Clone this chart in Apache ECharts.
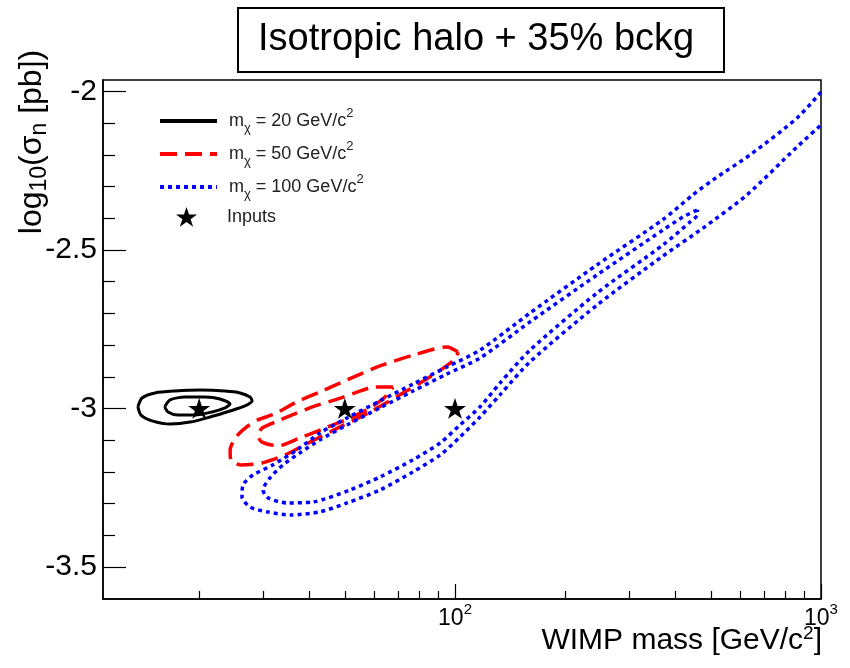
<!DOCTYPE html>
<html>
<head>
<meta charset="utf-8">
<script src="https://cdn.jsdelivr.net/npm/echarts@6/dist/echarts.min.js"></script>
<style>html,body{margin:0;padding:0;background:#fff}#c{width:850px;height:668px}</style>
</head>
<body>
<div id="c"></div>
<script>
// ---- data (mass in GeV/c^2, log10 sigma in pb) ----
var titleText = 'Isotropic halo + 35% bckg';
var legendMasses = ['20', '50', '100'];
var seriesNames = ['m20', 'm50', 'm100'];

var blackOuter = [[13.6,-2.995],[13.96,-2.967],[15.15,-2.951],[17.18,-2.945],[20.1,-2.942],[23.53,-2.945],[25.86,-2.951],[27.54,-2.964],[27.9,-2.976],[26.68,-2.992],[24.28,-3.008],[21.41,-3.027],[18.88,-3.043],[16.65,-3.049],[14.87,-3.039],[13.87,-3.021],[13.6,-2.995]];
var blackInner = [[16.1,-2.995],[16.65,-2.973],[18.3,-2.964],[20.75,-2.964],[22.8,-2.970],[24.28,-2.986],[23.53,-2.998],[21.69,-3.011],[19.48,-3.021],[17.51,-3.021],[16.44,-3.011],[16.1,-2.995]];

var redOuter = [[101.9,-2.822],[95.1,-2.806],[76.8,-2.832],[62.4,-2.866],[50.7,-2.910],[42.8,-2.948],[37.0,-2.979],[32.2,-3.017],[28.95,-3.036],[26.7,-3.062],[25.1,-3.093],[24.3,-3.131],[24.4,-3.162],[25.9,-3.178],[29.7,-3.172],[34.3,-3.147],[40.2,-3.106],[48.5,-3.058],[58.6,-3.011],[70.7,-2.957],[82.8,-2.910],[93.9,-2.869],[100.6,-2.841],[101.9,-2.822]];
var redInner = [[67.7,-2.932],[60.5,-2.932],[53.3,-2.951],[47.0,-2.973],[41.5,-2.992],[36.5,-3.017],[32.2,-3.043],[29.7,-3.062],[28.95,-3.087],[29.7,-3.106],[32.85,-3.118],[37.7,-3.093],[44.1,-3.062],[51.7,-3.030],[58.6,-2.998],[64.4,-2.964],[67.7,-2.932]];

var blueOuter = [[1000,-2.002],[860,-2.084],[640,-2.200],[507,-2.279],[447,-2.326],[370.1,-2.404],[244.3,-2.547],[160.3,-2.699],[117.0,-2.816],[95.1,-2.869],[76.8,-2.923],[62.4,-2.976],[50.7,-3.030],[42.8,-3.077],[37.0,-3.131],[31.8,-3.178],[28.06,-3.210],[26.35,-3.241],[26.18,-3.279],[27.54,-3.311],[30.64,-3.326],[35.42,-3.336],[42.77,-3.326],[50.7,-3.298],[62.39,-3.257],[76.78,-3.200],[91.0,-3.147],[103.2,-3.090],[117.0,-3.027],[132.7,-2.957],[160.3,-2.853],[244.3,-2.674],[370.1,-2.519],[476,-2.431],[628,-2.326],[860,-2.175],[1000,-2.106]];
var blueInner = [[458.4,-2.374],[419.7,-2.396],[370.1,-2.437],[244.3,-2.579],[160.3,-2.727],[117.0,-2.841],[95.1,-2.891],[76.78,-2.945],[62.39,-2.998],[50.7,-3.052],[42.77,-3.099],[37.71,-3.140],[33.89,-3.178],[31.22,-3.219],[29.88,-3.257],[30.83,-3.282],[34.75,-3.298],[40.93,-3.295],[51.67,-3.257],[62.39,-3.216],[76.78,-3.162],[91.0,-3.109],[103.2,-3.052],[117.0,-2.995],[132.7,-2.920],[160.3,-2.816],[244.3,-2.636],[370.1,-2.484],[438.6,-2.412],[461.3,-2.386],[458.4,-2.374]];

var inputMass = [20, 50, 100];
var inputSigma = [-3, -3, -3];

var xMajorTicks = [100, 1000];
var xMinorTicks = [20,30,40,50,60,70,80,90,200,300,400,500,600,700,800,900];
var yMajorTicks = [-3.5, -3, -2.5, -2];
var yMinorTicks = [-3.4,-3.3,-3.2,-3.1,-2.9,-2.8,-2.7,-2.6,-2.4,-2.3,-2.2,-2.1];
var xMin = 10.92, xMax = 1000, yMin = -3.601, yMax = -1.964;

// ---- chart ----
var FONT = 'Liberation Sans, Arial, Helvetica, sans-serif';
var starPath = 'path://M50,0 L61.8,35.1 L98.9,35.1 L69.1,56.7 L80.9,91.9 L50,70.1 L19.1,91.9 L30.9,56.7 L1.1,35.1 L38.2,35.1 Z';
var chart = echarts.init(document.getElementById('c'), null, {renderer: 'canvas'});

function contour(name, data, color, type, width) {
  return {
    name: name, type: 'line', data: data, showSymbol: false, symbol: 'none',
    smooth: 0.25, clip: true, silent: true,
    lineStyle: {color: color, width: width, type: type, cap: 'butt'},
    itemStyle: {color: color}
  };
}
var legendRich = {
  n: {fontSize: 18, fontFamily: FONT, color: '#222', lineHeight: 22},
  sub: {fontSize: 13, fontFamily: FONT, color: '#222', verticalAlign: 'bottom', lineHeight: 22, padding: [0,0,-3,0]},
  sup: {fontSize: 13, fontFamily: FONT, color: '#222', verticalAlign: 'top', lineHeight: 22, padding: [-3,0,0,0]}
};
var nameMap = {};
seriesNames.forEach(function (n, i) {
  nameMap[n] = '{n|m}{sub|\u03c7}{n| = ' + legendMasses[i] + ' GeV/c}{sup|2}';
});

var option = {
  animation: false,
  backgroundColor: '#fff',
  title: {
    text: titleText, left: 238, top: 8,
    borderColor: '#000', borderWidth: 2,
    padding: [10, 30, 10, 20],
    textStyle: {fontSize: 38, fontWeight: 'normal', fontFamily: FONT, color: '#000', lineHeight: 44}
  },
  grid: {left: 103, top: 80, right: 29, bottom: 69, show: true, borderColor: '#000', borderWidth: 1.5, backgroundColor: 'transparent'},
  legend: [{
    data: seriesNames, orient: 'vertical', left: 158, top: 107, padding: 0,
    itemWidth: 57, itemHeight: 20, itemGap: 5,
    itemStyle: {opacity: 0},
    lineStyle: {width: 4},
    formatter: function (n) { return nameMap[n]; },
    textStyle: {rich: legendRich, padding: [0,0,0,7]}
  }, {
    data: ['Inputs'], orient: 'vertical', left: 176, top: 207, padding: 0,
    itemWidth: 21, itemHeight: 21,
    textStyle: {fontSize: 18, fontFamily: FONT, color: '#222', padding: [0,0,0,25]}
  }],
  xAxis: [{
    type: 'log', min: xMin, max: xMax, logBase: 10,
    axisLine: {show: true, lineStyle: {color: '#000', width: 1.5}},
    splitLine: {show: false},
    axisTick: {show: true, inside: true, length: 15, customValues: xMajorTicks, lineStyle: {color: '#000', width: 1.2}},
    axisLabel: {
      customValues: xMajorTicks, margin: 7,
      formatter: function (v) { return '{b|10}{s|' + Math.round(Math.log10(v)) + '}'; },
      rich: {
        b: {fontSize: 23, fontFamily: FONT, color: '#000', lineHeight: 26},
        s: {fontSize: 15, fontFamily: FONT, color: '#000', verticalAlign: 'top', lineHeight: 26, padding: [-4,0,0,0]}
      }
    }
  }, {
    type: 'log', min: xMin, max: xMax, logBase: 10, position: 'bottom',
    axisLine: {show: false}, splitLine: {show: false},
    axisTick: {show: true, inside: true, length: 8, customValues: xMinorTicks, lineStyle: {color: '#000', width: 1.2}},
    axisLabel: {show: false}
  }],
  yAxis: [{
    type: 'value', min: yMin, max: yMax,
    axisLine: {show: true, lineStyle: {color: '#000', width: 1.5}},
    splitLine: {show: false},
    axisTick: {show: true, inside: true, length: 23, customValues: yMajorTicks, lineStyle: {color: '#000', width: 1.2}},
    axisLabel: {customValues: yMajorTicks, margin: 6, fontSize: 30, fontFamily: FONT, color: '#000',
      formatter: function (v) { return String(v); }}
  }, {
    type: 'value', min: yMin, max: yMax, position: 'left',
    axisLine: {show: false}, splitLine: {show: false},
    axisTick: {show: true, inside: true, length: 12, customValues: yMinorTicks, lineStyle: {color: '#000', width: 1.2}},
    axisLabel: {show: false}
  }],
  graphic: [{
    type: 'text', x: 32, y: 142, rotation: Math.PI / 2,
    style: {
      text: '{n|log}{sub|10}{n|(\u03c3}{sub|n}{n| [pb])}',
      align: 'center', verticalAlign: 'middle',
      rich: {
        n: {fontSize: 32, fontFamily: FONT, fill: '#000', lineHeight: 38},
        sub: {fontSize: 23, fontFamily: FONT, fill: '#000', verticalAlign: 'bottom', lineHeight: 38}
      }
    }
  }, {
    type: 'text', x: 822, y: 641,
    style: {
      text: '{n|WIMP mass [GeV/c}{sup|2}{n|]}',
      align: 'right', verticalAlign: 'middle',
      rich: {
        n: {fontSize: 30, fontFamily: FONT, fill: '#000', lineHeight: 34},
        sup: {fontSize: 19, fontFamily: FONT, fill: '#000', verticalAlign: 'top', lineHeight: 34}
      }
    }
  }],
  series: [
    contour(seriesNames[0], blackOuter, '#000000', 'solid', 3),
    contour(seriesNames[0], blackInner, '#000000', 'solid', 3),
    contour(seriesNames[1], redOuter, '#ff0000', [17, 8], 3.5),
    contour(seriesNames[1], redInner, '#ff0000', [17, 8], 3.5),
    contour(seriesNames[2], blueOuter, '#0000ff', [4, 4], 3.5),
    contour(seriesNames[2], blueInner, '#0000ff', [4, 4], 3.5),
    {
      name: 'Inputs', type: 'scatter', symbol: starPath, symbolSize: 22, symbolKeepAspect: true,
      data: inputMass.map(function (m, i) { return [m, inputSigma[i]]; }),
      itemStyle: {color: '#000', opacity: 1}, silent: true, z: 5
    }
  ]
};
chart.setOption(option);
</script>
</body>
</html>
